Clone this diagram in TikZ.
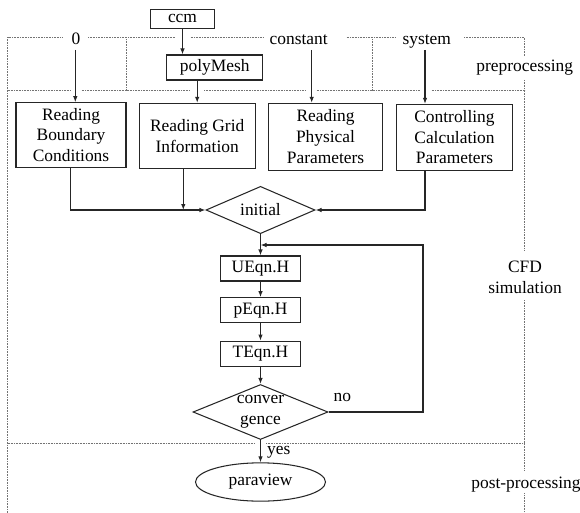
\documentclass[tikz,border=0pt]{standalone}
\usepackage{fontspec}
\setmainfont{Liberation Serif}
\usetikzlibrary{shapes.geometric,arrows.meta}
\newcommand\myfs{\fontsize{17.4}{20.8}\selectfont}
\begin{document}
\begin{tikzpicture}[x=1pt,y=-1pt,
  box/.style={draw=black!85, line width=1.05pt, inner sep=0pt, align=center, font=\myfs},
  plain/.style={font=\myfs, inner sep=0pt, align=center},
  arr/.style={-{Latex[length=6pt,width=4.5pt]}, line width=1.05pt, draw=black!85},
  dots/.style={draw=black!55, line width=0.8pt, dash pattern=on 0.8pt off 0.8pt}]
\useasboundingbox (0,0) rectangle (580,513);

% dotted frames
\draw[dots] (7.5,513) -- (7.5,37.5) -- (63,37.5);
\draw[dots] (88,37.5) -- (175,37.5);
\draw[dots] (190.7,37.5) -- (263.3,37.5);
\draw[dots] (346.7,37.5) -- (396,37.5);
\draw[dots] (464,37.5) -- (524.5,37.5) -- (524.5,56.7);
\draw[dots] (524.5,80) -- (524.5,250);
\draw[dots] (524.5,300) -- (524.5,470);
\draw[dots] (524.5,493.3) -- (524.5,513);
\draw[dots] (126.5,37.5) -- (126.5,90.5);
\draw[dots] (372.5,37.5) -- (372.5,90.5);
\draw[dots] (7.5,90.5) -- (70,90.5);
\draw[dots] (81.7,90.5) -- (190,90.5);
\draw[dots] (204,90.5) -- (306,90.5);
\draw[dots] (316.7,90.5) -- (419.3,90.5);
\draw[dots] (431.7,90.5) -- (524.5,90.5);
\draw[dots] (7.5,443) -- (255,443);
\draw[dots] (266,443) -- (524.5,443);

% labels
\node[plain, anchor=base] (l0) at (76,44.5) {0};
\node[plain, anchor=base] (lc) at (298.7,44.5) {constant};
\node[plain, anchor=base] (ls) at (426.7,44.5) {system};
\node[plain, anchor=base] (lpre) at (524.7,71.7) {preprocessing};
\node[plain] (lcfd) at (525,277) {CFD\\simulation};
\node[plain, anchor=base] (lpost) at (526,488) {post-processing};

% nodes
\node[box, minimum width=63.6pt, minimum height=19pt] (ccm) at (182.5,18.8) {ccm};
\node[box, minimum width=96pt, minimum height=25pt] (poly) at (214.7,67.5) {polyMesh};
\node[box, minimum width=110pt, minimum height=64.6pt] (b1) at (71,135) {Reading\\Boundary\\Conditions};
\node[box, minimum width=115.7pt, minimum height=65pt] (b2) at (197.2,135.8) {Reading Grid\\Information};
\node[box, minimum width=114.4pt, minimum height=66.7pt] (b3) at (325.5,136.7) {Reading\\Physical\\Parameters};
\node[box, minimum width=115.6pt, minimum height=65.7pt] (b4) at (454.5,137.2) {Controlling\\Calculation\\Parameters};

\node[draw=black!85, line width=1.05pt, diamond, inner sep=0pt, minimum width=109pt, minimum height=47.3pt,
  label={[plain]center:initial}] (ini) at (260.5,210) {};
\node[box, minimum width=80.7pt, minimum height=25pt] (u) at (260.5,268.5) {UEqn.H};
\node[box, minimum width=80.7pt, minimum height=25pt] (p) at (260.5,310.2) {pEqn.H};
\node[box, minimum width=80.7pt, minimum height=25pt] (t) at (260.5,353.6) {TEqn.H};
\node[draw=black!85, line width=1.05pt, diamond, inner sep=0pt, minimum width=135pt, minimum height=55pt,
  label={[plain]center:{conver\\gence}}] (conv) at (260.5,412) {};
\node[draw=black!85, line width=1.05pt, ellipse, inner sep=0pt, minimum width=130pt, minimum height=38.3pt,
  font=\myfs] (pv) at (260.5,482) {paraview};

\node[plain, anchor=base] (lno) at (342.4,401) {no};
\node[plain, anchor=base] (lyes) at (278.7,454) {yes};

% connectors
\coordinate (s0) at (75.3,50);
\coordinate (sc) at (311.7,50);
\coordinate (ss) at (425,50);
\draw[arr] (s0) -- (s0 |- b1.north);
\draw[arr] (sc) -- (sc |- b3.north);
\draw[arr] (ss) -- (ss |- b4.north);
\draw[arr] (ccm.south) -- (ccm.south |- poly.north);
\draw[arr] (poly.south -| b2.north) -- (b2.north);

\coordinate (o1) at (70.7,0);
\coordinate (o2) at (183.3,0);
\coordinate (o4) at (425,0);
\draw[arr] (b1.south -| o1) |- (ini.west);
\draw[arr] (b2.south -| o2) -- (o2 |- ini.west);
\draw[arr] (b4.south -| o4) |- (ini.east);

\draw[arr] (ini.south) -- (u.north);
\draw[arr] (u.south) -- (p.north);
\draw[arr] (p.south) -- (t.north);
\draw[arr] (t.south) -- (conv.north);
\draw[arr] (conv.south) -- (pv.north);

\coordinate (lx) at (423,245);
\draw[arr] (conv.east) -| (lx) -- (ini.south |- lx);
\end{tikzpicture}
\end{document}
